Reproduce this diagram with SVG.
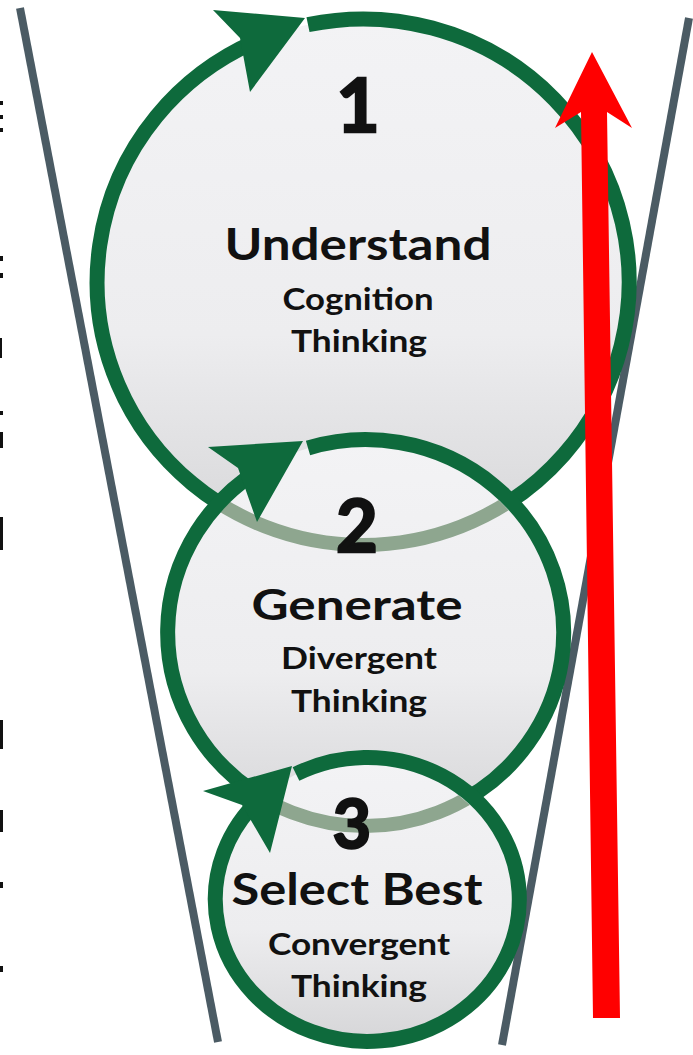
<svg xmlns="http://www.w3.org/2000/svg" width="693" height="1055" viewBox="0 0 693 1055">
<style>
.funnel{stroke:#4b5b64;stroke-width:8;stroke-linecap:butt;fill:none}
.ring{fill:none;stroke:#0e6a3c;stroke-width:15}
.faded{fill:none;stroke:#8ea68f;stroke-width:14}
.head{fill:#0e6a3c}
.num{font-family:Lato,"Open Sans","DejaVu Sans",sans-serif;font-weight:bold;fill:#111;stroke:#111;stroke-width:2.5;text-anchor:middle}
.title{font-family:Lato,"Open Sans","DejaVu Sans",sans-serif;font-weight:bold;fill:#111;text-anchor:middle}
.sub{font-family:Lato,"Open Sans","DejaVu Sans",sans-serif;font-weight:bold;fill:#111;text-anchor:middle;font-size:30px}
.mark{fill:#111}
</style>
<defs>
<linearGradient id="gfill" x1="0" y1="0" x2="0" y2="1">
<stop offset="0" stop-color="#f3f3f5"/>
<stop offset="0.6" stop-color="#ededef"/>
<stop offset="1" stop-color="#d6d6d8"/>
</linearGradient>
<clipPath id="in2"><ellipse cx="365" cy="633" rx="191" ry="186"/></clipPath>
<clipPath id="in3"><ellipse cx="367" cy="900" rx="145" ry="135"/></clipPath>
</defs>
<rect width="693" height="1055" fill="#ffffff"/>
<g id="edge-marks">
<rect class="mark" x="0" y="101" width="3" height="4"/>
<rect class="mark" x="0" y="115" width="3" height="4"/>
<rect class="mark" x="0" y="128" width="3" height="4"/>
<rect class="mark" x="0" y="256" width="3" height="5"/>
<rect class="mark" x="0" y="273" width="3" height="5"/>
<rect class="mark" x="0" y="338" width="2" height="20"/>
<rect class="mark" x="0" y="411" width="3" height="4"/>
<rect class="mark" x="0" y="432" width="3" height="16"/>
<rect class="mark" x="0" y="517" width="3" height="33"/>
<rect class="mark" x="0" y="720" width="3" height="29"/>
<rect class="mark" x="0" y="810" width="3" height="22"/>
<rect class="mark" x="0" y="882" width="3" height="6"/>
<rect class="mark" x="0" y="966" width="3" height="6"/>
</g>
<g id="funnel">
<line class="funnel" x1="20" y1="8" x2="218" y2="1042"/>
<line class="funnel" x1="689" y1="18" x2="502" y2="1045"/>
</g>
<g id="node1">
<ellipse cx="363" cy="282" rx="266" ry="263" fill="url(#gfill)"/>
<path class="ring" d="M308,24.7 A266,263 0 1,1 255,41.7"/>
<polygon class="head" points="305,18 213,10 240,38 250,92"/>
</g>
<g id="node2">
<ellipse cx="365" cy="633" rx="198" ry="193" fill="url(#gfill)"/>
<ellipse class="faded" cx="363" cy="282" rx="266" ry="263" clip-path="url(#in2)"/>
<path class="ring" d="M308,448 A198,193 0 1,1 262,468.2"/>
<polygon class="head" points="303,441 208,447 238,468 257,522"/>
</g>
<g id="node3">
<ellipse cx="367" cy="900" rx="152" ry="142" fill="url(#gfill)"/>
<ellipse class="faded" cx="365" cy="633" rx="198" ry="193" clip-path="url(#in3)"/>
<path class="ring" d="M296,774 A152,142 0 1,1 262,797"/>
<polygon class="head" points="292,766 203,791 242,805 270,853"/>
</g>
<g id="labels">
<text class="num" x="358" y="132" font-size="75">1</text>
<text class="title" x="358" y="260" font-size="44" textLength="267" lengthAdjust="spacingAndGlyphs">Understand</text>
<text class="sub" x="358" y="310" textLength="151" lengthAdjust="spacingAndGlyphs">Cognition</text>
<text class="sub" x="359" y="352" textLength="136" lengthAdjust="spacingAndGlyphs">Thinking</text>
<text class="num" x="357" y="552" font-size="72">2</text>
<text class="title" x="357" y="620" font-size="42" textLength="211" lengthAdjust="spacingAndGlyphs">Generate</text>
<text class="sub" x="359" y="669" textLength="156" lengthAdjust="spacingAndGlyphs">Divergent</text>
<text class="sub" x="359" y="712" textLength="136" lengthAdjust="spacingAndGlyphs">Thinking</text>
<text class="num" x="352" y="848" font-size="66">3</text>
<text class="title" x="357" y="905" font-size="44" textLength="251" lengthAdjust="spacingAndGlyphs">Select Best</text>
<text class="sub" x="359" y="955" textLength="182" lengthAdjust="spacingAndGlyphs">Convergent</text>
<text class="sub" x="359" y="997" textLength="136" lengthAdjust="spacingAndGlyphs">Thinking</text>
</g>
<g id="connectors">
<polygon fill="#ff0000" points="592,52 632,128 607,112 620,1018 593,1018 581,112 555,128"/>
</g>
</svg>
